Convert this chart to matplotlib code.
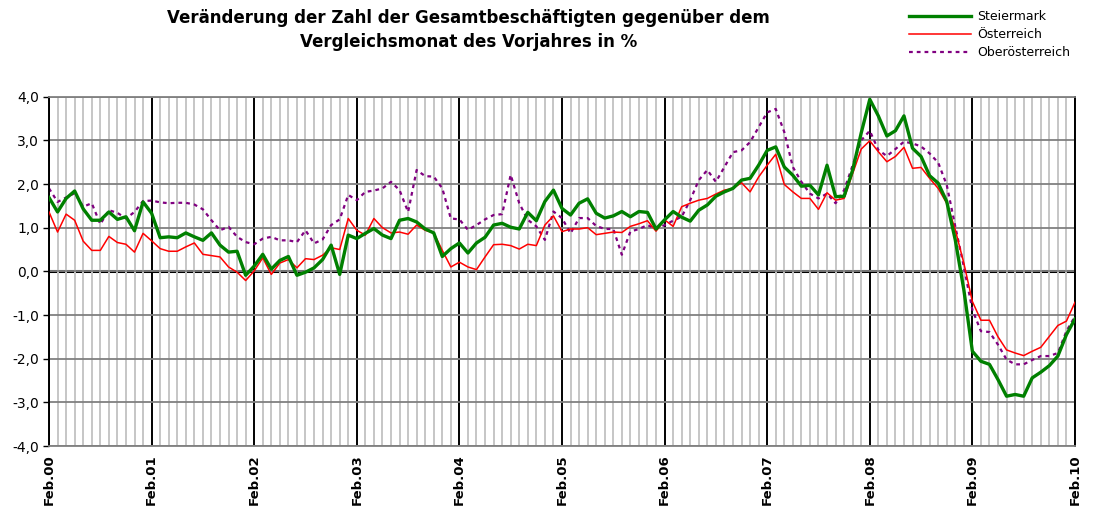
import numpy as np
import matplotlib
matplotlib.use("Agg")
from matplotlib import pyplot as plt

#  monthly values, Feb.00 .. Feb.10 (121 months)
steiermark = [1.69, 1.36, 1.67, 1.84, 1.43, 1.17, 1.17, 1.36, 1.19, 1.25, 0.93, 1.59,
              1.33, 0.77, 0.79, 0.77, 0.88, 0.79, 0.71, 0.88, 0.60, 0.44, 0.46, -0.09,
              0.12, 0.39, 0.05, 0.25, 0.34, -0.09, -0.02, 0.08, 0.27, 0.60, -0.07, 0.83,
              0.75, 0.87, 0.98, 0.83, 0.75, 1.17, 1.21, 1.13, 0.97, 0.88, 0.34, 0.52,
              0.65, 0.42, 0.65, 0.78, 1.06, 1.10, 1.01, 0.97, 1.35, 1.16, 1.60, 1.86,
              1.44, 1.29, 1.56, 1.66, 1.33, 1.22, 1.27, 1.37, 1.25, 1.37, 1.35, 0.97,
              1.18, 1.37, 1.24, 1.15, 1.40, 1.52, 1.72, 1.82, 1.90, 2.09, 2.13, 2.43,
              2.77, 2.85, 2.39, 2.20, 1.95, 1.97, 1.75, 2.43, 1.71, 1.72, 2.32, 3.17,
              3.94, 3.56, 3.10, 3.22, 3.56, 2.82, 2.63, 2.19, 2.02, 1.60, 0.72, -0.42,
              -1.83, -2.06, -2.13, -2.48, -2.86, -2.82, -2.86, -2.44, -2.31, -2.16, -1.94, -1.45,
              -1.09]
oesterreich = [1.36, 0.90, 1.31, 1.17, 0.69, 0.48, 0.48, 0.80, 0.66, 0.62, 0.44, 0.87,
               0.70, 0.52, 0.46, 0.46, 0.56, 0.65, 0.39, 0.36, 0.33, 0.10, -0.02, -0.21,
               0.01, 0.31, -0.07, 0.19, 0.27, 0.08, 0.29, 0.27, 0.37, 0.54, 0.50, 1.21,
               0.94, 0.83, 1.21, 1.00, 0.88, 0.90, 0.85, 1.06, 0.94, 0.88, 0.48, 0.10,
               0.21, 0.10, 0.04, 0.33, 0.61, 0.62, 0.59, 0.51, 0.62, 0.59, 1.06, 1.27,
               0.91, 0.97, 0.97, 1.00, 0.84, 0.87, 0.90, 0.89, 1.03, 1.09, 1.16, 0.92,
               1.18, 1.03, 1.48, 1.56, 1.63, 1.67, 1.77, 1.86, 1.90, 2.03, 1.82, 2.16,
               2.43, 2.68, 1.99, 1.82, 1.67, 1.67, 1.42, 1.80, 1.63, 1.67, 2.24, 2.80,
               2.99, 2.74, 2.51, 2.63, 2.84, 2.36, 2.38, 2.13, 1.90, 1.56, 0.95, 0.19,
               -0.69, -1.12, -1.12, -1.50, -1.80, -1.87, -1.93, -1.83, -1.74, -1.49, -1.24, -1.14,
               -0.71]
oberoesterreich = [1.90, 1.59, 1.69, 1.79, 1.48, 1.56, 1.08, 1.40, 1.34, 1.21, 1.36, 1.61,
                   1.62, 1.58, 1.56, 1.57, 1.57, 1.53, 1.42, 1.17, 0.94, 1.02, 0.79, 0.67,
                   0.62, 0.75, 0.79, 0.71, 0.71, 0.67, 0.94, 0.64, 0.73, 1.06, 1.19, 1.75,
                   1.63, 1.82, 1.85, 1.90, 2.05, 1.86, 1.36, 2.32, 2.18, 2.17, 1.90, 1.21,
                   1.19, 0.95, 1.06, 1.19, 1.29, 1.31, 2.21, 1.56, 1.18, 1.03, 0.72, 1.37,
                   1.22, 0.87, 1.22, 1.22, 1.04, 0.97, 0.97, 0.38, 0.91, 0.97, 1.06, 0.97,
                   1.06, 1.16, 1.25, 1.63, 2.09, 2.32, 2.05, 2.39, 2.73, 2.77, 2.96, 3.30,
                   3.64, 3.72, 3.19, 2.39, 2.05, 1.78, 1.67, 1.78, 1.56, 1.86, 2.43, 3.00,
                   3.22, 2.78, 2.64, 2.80, 2.97, 2.93, 2.86, 2.70, 2.49, 1.98, 1.03, 0.11,
                   -0.88, -1.37, -1.39, -1.68, -2.02, -2.13, -2.13, -2.03, -1.94, -1.94, -1.87, -1.37,
                   -1.03]
year_labels = ['Feb.00', 'Feb.01', 'Feb.02', 'Feb.03', 'Feb.04', 'Feb.05',
               'Feb.06', 'Feb.07', 'Feb.08', 'Feb.09', 'Feb.10']
y_ticks = [-4, -3, -2, -1, 0, 1, 2, 3, 4]

plt.rcParams['font.family'] = ['DejaVu Sans']

fig = plt.figure(figsize=(10.94, 5.11), dpi=100)
ax = fig.add_axes([0.0448, 0.1272, 0.9378, 0.6836])

months = np.arange(len(steiermark))

#  grid: light monthly lines, black year lines, gray horizontal lines
ax.set_xticks(np.arange(0, 121, 12))
ax.set_xticks(months, minor=True)
ax.grid(which='minor', axis='x', color='#c6c6c6', lw=1.4, zorder=0)
ax.grid(which='major', axis='x', color='black', lw=1.4, zorder=0.6)
ax.set_yticks(y_ticks)
ax.grid(which='major', axis='y', color='#808080', lw=1.3, zorder=0.5)
ax.axhline(0, color='black', lw=2.2, zorder=1)

ax.plot(months, oberoesterreich, color='#800080', lw=1.6, dashes=(1.7, 1.8),
        label='Oberösterreich', zorder=2)
ax.plot(months, oesterreich, color='#ff0000', lw=1.1, label='Österreich', zorder=3)
ax.plot(months, steiermark, color='#008000', lw=2.4, label='Steiermark', zorder=4)

ax.set_xlim(0, 120)
ax.set_ylim(-4, 4)
ax.set_xticklabels(year_labels, rotation=90, fontsize=9.5, fontweight='bold')
ax.set_yticklabels(['{:.1f}'.format(v).replace('.', ',') for v in y_ticks], fontsize=10)
ax.tick_params(axis='x', which='both', length=0, pad=6)
ax.tick_params(axis='y', which='major', length=4, width=1, pad=3)

for side in ['left', 'right']:
    ax.spines[side].set_color('black')
    ax.spines[side].set_linewidth(1.4)
for side in ['top', 'bottom']:
    ax.spines[side].set_color('#808080')
    ax.spines[side].set_linewidth(1.3)

fig.text(0.428, 0.983, 'Veränderung der Zahl der Gesamtbeschäftigten gegenüber dem\n'
         'Vergleichsmonat des Vorjahres in %', ha='center', va='top',
         fontsize=12, fontweight='bold', linespacing=1.42)

h, l = ax.get_legend_handles_labels()
order = [2, 1, 0]
fig.legend([h[i] for i in order], [l[i] for i in order], loc='upper left',
           bbox_to_anchor=(0.822, 1.0), frameon=False, fontsize=9,
           handlelength=4.95, handletextpad=0.45, labelspacing=0.42, borderpad=0.3)

fig.savefig('out.png', dpi=100)
